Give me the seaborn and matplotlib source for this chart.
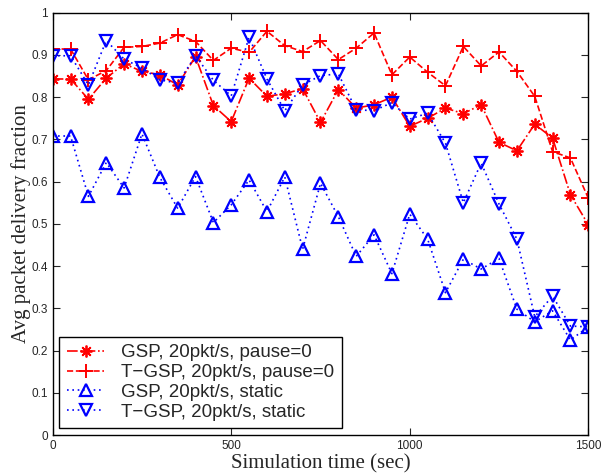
import numpy as np
import pandas as pd
import matplotlib
matplotlib.use("Agg")
import matplotlib.pyplot as plt
import seaborn as sns

sim_time = list(range(0, 1501, 50))

gsp_pause = [0.843, 0.843, 0.795, 0.845, 0.879, 0.861, 0.853, 0.829, 0.896, 0.780,
             0.742, 0.845, 0.802, 0.808, 0.820, 0.740, 0.818, 0.774, 0.782, 0.800,
             0.731, 0.750, 0.774, 0.761, 0.782, 0.693, 0.673, 0.736, 0.703, 0.569, 0.498]
tgsp_pause = [0.914, 0.914, 0.841, 0.863, 0.918, 0.920, 0.928, 0.948, 0.932, 0.887,
              0.916, 0.906, 0.956, 0.922, 0.908, 0.934, 0.889, 0.916, 0.952, 0.853,
              0.895, 0.859, 0.827, 0.920, 0.874, 0.907, 0.861, 0.802, 0.671, 0.656, 0.561]
gsp_static = [0.708, 0.708, 0.565, 0.645, 0.585, 0.713, 0.610, 0.537, 0.612, 0.503,
              0.545, 0.604, 0.529, 0.611, 0.440, 0.596, 0.517, 0.423, 0.474, 0.382,
              0.523, 0.464, 0.337, 0.416, 0.393, 0.418, 0.298, 0.268, 0.294, 0.225, 0.256]
tgsp_static = [0.898, 0.898, 0.829, 0.934, 0.890, 0.869, 0.841, 0.833, 0.898, 0.840,
               0.803, 0.942, 0.843, 0.768, 0.829, 0.851, 0.855, 0.770, 0.768, 0.787,
               0.748, 0.762, 0.691, 0.550, 0.644, 0.547, 0.464, 0.280, 0.329, 0.258, 0.256]

labels = ["GSP, 20pkt/s, pause=0", "T\u2212GSP, 20pkt/s, pause=0",
          "GSP, 20pkt/s, static", "T\u2212GSP, 20pkt/s, static"]

sns.set_style("ticks")
plt.rcParams['font.family'] = ['Liberation Sans', 'DejaVu Sans']

fig = plt.figure(figsize=(6.1, 4.75), dpi=100)
ax = fig.add_axes([0.0864, 0.0842, 0.878, 0.8891])

series = [
    (gsp_pause, dict(color="red", marker=(8, 2, 0), linestyle="-.", markersize=8.5, mew=1.3)),
    (tgsp_pause, dict(color="red", marker="+", linestyle="--", markersize=10, mew=1.4)),
    (gsp_static, dict(color="blue", marker="^", linestyle=":", markersize=8.5, mew=1.6,
                      markerfacecolor="none")),
    (tgsp_static, dict(color="blue", marker="v", linestyle=":", markersize=8.5, mew=1.6,
                       markerfacecolor="none")),
]

handles = []
for (vals, st), lab in zip(series, labels):
    df = pd.DataFrame({"t": sim_time, "v": vals})
    sns.lineplot(data=df, x="t", y="v", ax=ax, color=st["color"], marker=st["marker"],
                 linestyle=st["linestyle"], markersize=st["markersize"],
                 markeredgewidth=st["mew"], markeredgecolor=st["color"],
                 markerfacecolor=st.get("markerfacecolor", st["color"]),
                 linewidth=1.2, label=lab, legend=False)
    line = ax.get_lines()[-1]
    if st["linestyle"] == ":":
        line.set_dashes([1, 2.2])
    handles.append(line)

ax.set_xlim(0, 1500)
ax.set_ylim(0, 1)
ax.set_xticks([0, 500, 1000, 1500])
ax.set_yticks(np.arange(0, 1.01, 0.1))
ax.set_yticklabels(["0", "0.1", "0.2", "0.3", "0.4", "0.5", "0.6", "0.7", "0.8", "0.9", "1"])
ax.tick_params(direction="in", top=True, right=True, labelsize=8.5, length=5, width=0.8)
for s in ax.spines.values():
    s.set_visible(True)
    s.set_linewidth(1.0)
    s.set_color("black")

ax.set_xlabel("Simulation time (sec)", family=["Liberation Serif", "DejaVu Serif"],
              fontsize=15, labelpad=2)
ax.set_ylabel("Avg packet delivery fraction", family=["Liberation Serif", "DejaVu Serif"],
              fontsize=15, labelpad=0)

leg = ax.legend(handles=handles, labels=labels, loc="lower left", fontsize=13.5,
                frameon=True, fancybox=False, edgecolor="black", framealpha=1,
                borderaxespad=0.35, handlelength=2.0, handletextpad=0.9,
                labelspacing=0.15, borderpad=0.4)
leg.get_frame().set_linewidth(1.0)

fig.savefig("out.png", dpi=100)
